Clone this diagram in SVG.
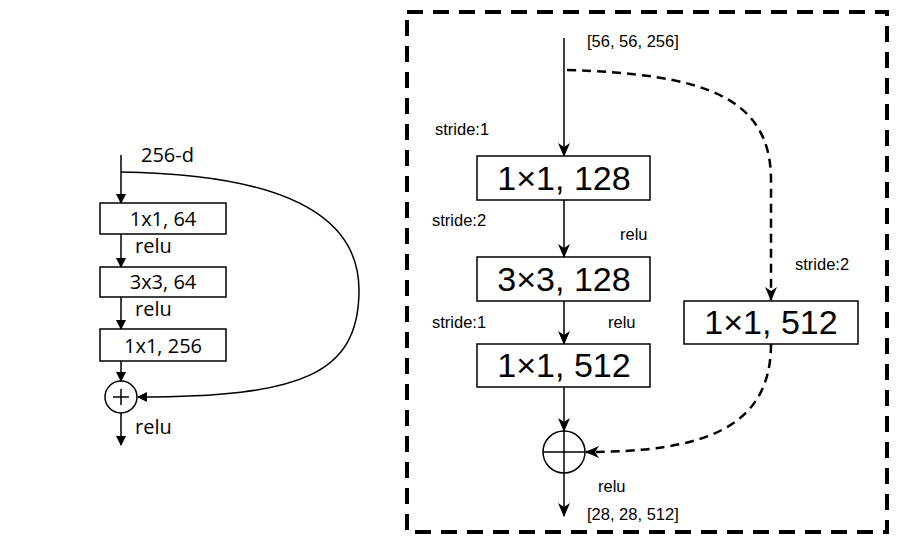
<svg xmlns="http://www.w3.org/2000/svg" width="899" height="546" viewBox="0 0 899 546">
<style>
.bx{fill:#fff;stroke:#000;stroke-width:1.5}
.ln{fill:none;stroke:#000;stroke-width:1.5}
.dl{fill:none;stroke:#000;stroke-width:2.5;stroke-dasharray:9 6}
.lt{font-family:"Open Sans","Liberation Sans",sans-serif;font-size:20px;fill:#000}
.rt{font-family:"Liberation Sans",Arial,sans-serif;font-size:16.5px;fill:#000}
.bt{font-family:"Liberation Sans",Arial,sans-serif;font-size:34px;fill:#000}
</style>
<defs>
<marker id="a1" markerWidth="10" markerHeight="10" refX="9" refY="5" orient="auto" markerUnits="userSpaceOnUse">
<path d="M0,0 L10,5 L0,10 z" fill="#000"/>
</marker>
<marker id="a2" markerWidth="14" markerHeight="14" refX="13" refY="7" orient="auto" markerUnits="userSpaceOnUse">
<path d="M0,1 L14,7 L0,13 L4,7 z" fill="#000"/>
</marker>
</defs>
<rect x="407" y="12" width="480" height="520" fill="none" stroke="#000" stroke-width="4" stroke-dasharray="16 10"/>
<g id="connectors">
<line class="ln" x1="121" y1="155" x2="121" y2="203" marker-end="url(#a1)"/>
<line class="ln" x1="121" y1="234" x2="121" y2="267" marker-end="url(#a1)"/>
<line class="ln" x1="121" y1="297" x2="121" y2="329" marker-end="url(#a1)"/>
<line class="ln" x1="121" y1="361" x2="121" y2="381" marker-end="url(#a1)"/>
<line class="ln" x1="121" y1="413" x2="121" y2="445" marker-end="url(#a1)"/>
<path class="ln" d="M121,172 C260,174 359,205 359,290 C359,375 300,397 138,397" marker-end="url(#a1)"/>
<line class="ln" x1="564" y1="38" x2="564" y2="156" marker-end="url(#a2)"/>
<line class="ln" x1="564" y1="200" x2="564" y2="257" marker-end="url(#a2)"/>
<line class="ln" x1="564" y1="301" x2="564" y2="344" marker-end="url(#a2)"/>
<line class="ln" x1="564" y1="387" x2="564" y2="431" marker-end="url(#a2)"/>
<line class="ln" x1="564" y1="473" x2="564" y2="516" marker-end="url(#a2)"/>
<path class="dl" d="M567,70 C700,74 771,95 771,180 L771,300" marker-end="url(#a2)"/>
<path class="dl" d="M771,344 C771,430 700,452 586,452" marker-end="url(#a2)"/>
</g>
<g id="l_in"><text class="lt" x="141" y="162">256-d</text></g>
<g id="l_b1"><rect class="bx" x="100" y="203" width="126" height="31"/><text class="lt" x="163" y="226" text-anchor="middle">1x1, 64</text></g>
<g id="l_r1"><text class="lt" x="135" y="253">relu</text></g>
<g id="l_b2"><rect class="bx" x="100" y="267" width="126" height="30"/><text class="lt" x="163" y="289" text-anchor="middle">3x3, 64</text></g>
<g id="l_r2"><text class="lt" x="135" y="316">relu</text></g>
<g id="l_b3"><rect class="bx" x="100" y="329" width="126" height="32"/><text class="lt" x="163" y="353" text-anchor="middle">1x1, 256</text></g>
<g id="l_add"><circle class="ln" cx="121" cy="397" r="16" fill="#fff"/><line class="ln" x1="113" y1="397" x2="129" y2="397"/><line class="ln" x1="121" y1="389" x2="121" y2="405"/></g>
<g id="l_r3"><text class="lt" x="135" y="434">relu</text></g>
<g id="r_in"><text class="rt" x="587" y="47">[56, 56, 256]</text></g>
<g id="r_s1"><text class="rt" x="435" y="135">stride:1</text></g>
<g id="r_b1"><rect class="bx" x="477" y="156" width="173" height="44"/><text class="bt" x="564" y="190" text-anchor="middle">1×1, 128</text></g>
<g id="r_s2"><text class="rt" x="432" y="226">stride:2</text></g>
<g id="r_r1"><text class="rt" x="620" y="240">relu</text></g>
<g id="r_b2"><rect class="bx" x="477" y="257" width="173" height="44"/><text class="bt" x="564" y="291" text-anchor="middle">3×3, 128</text></g>
<g id="r_s3"><text class="rt" x="432" y="328">stride:1</text></g>
<g id="r_r2"><text class="rt" x="608" y="328">relu</text></g>
<g id="r_b3"><rect class="bx" x="477" y="344" width="173" height="43"/><text class="bt" x="564" y="377" text-anchor="middle">1×1, 512</text></g>
<g id="r_s4"><text class="rt" x="795" y="270">stride:2</text></g>
<g id="r_b4"><rect class="bx" x="684" y="301" width="174" height="43"/><text class="bt" x="771" y="334" text-anchor="middle">1×1, 512</text></g>
<g id="r_add"><circle class="ln" cx="564" cy="452" r="21" fill="#fff"/><line class="ln" x1="543" y1="452" x2="585" y2="452"/><line class="ln" x1="564" y1="431" x2="564" y2="473"/></g>
<g id="r_r3"><text class="rt" x="598" y="492">relu</text></g>
<g id="r_out"><text class="rt" x="587" y="520">[28, 28, 512]</text></g>
</svg>
